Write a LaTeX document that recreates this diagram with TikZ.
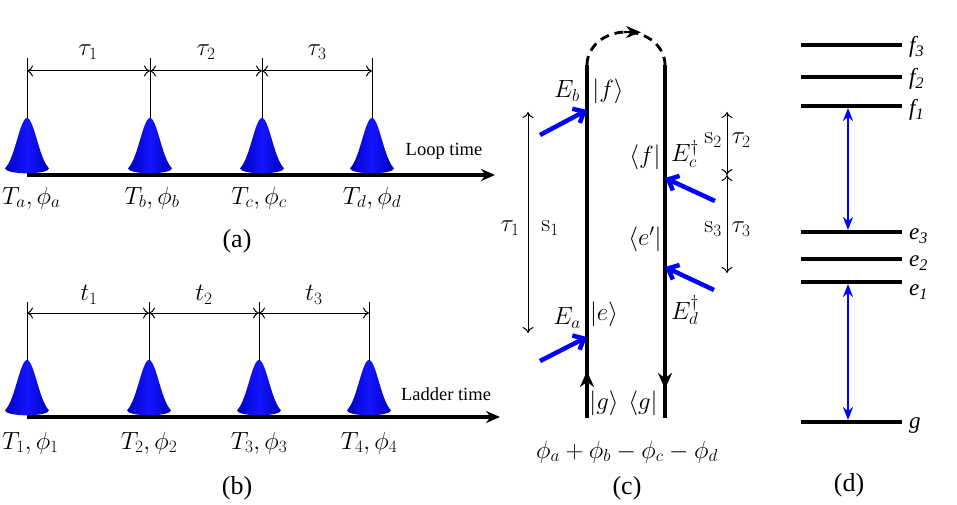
\documentclass[tikz,border=0pt]{standalone}
\usepackage[no-math]{fontspec}
\setmainfont{Liberation Serif}
\usetikzlibrary{arrows.meta}
\begin{document}
\begin{tikzpicture}[x=1pt,y=-1pt,
  font=\fontsize{23}{27}\selectfont,
  every node/.style={inner sep=0pt},
  axisline/.style={line width=4pt,-{Stealth[length=14pt,width=12pt]}},
  guide/.style={line width=0.8pt},
  dim/.style={line width=1pt,{To[length=6pt,width=11pt]}-{To[length=6pt,width=11pt]}},
  pulsefill/.style={left color=blue!75!black,right color=blue!75!black,middle color=blue!92!white},
  pulse/.pic={\shade[pulsefill] plot[domain=-22:22,samples=45,smooth] (\x,{-55*exp(-((\x/14)*(\x/14)))}) arc[start angle=0,end angle=180,x radius=22,y radius=5] -- cycle;},
  timelabel/.style={font=\fontsize{18.5}{22}\selectfont},
  caption/.style={font=\fontsize{26}{30}\selectfont},
  fey/.style={line width=3.5pt},
  beam/.style={blue,line width=4.5pt,-{Straight Barb[length=9pt,width=16pt]}},
  level/.style={line width=4pt},
  trans/.style={blue,line width=2.2pt,{Stealth[length=13pt,width=10pt]}-{Stealth[length=13pt,width=10pt]}},
  lvlabel/.style={anchor=west,font=\fontsize{23}{27}\selectfont\itshape},
]
\useasboundingbox (0,0) rectangle (957,505);
% ---------------- panel (a)
\draw[axisline] (27,175) -- (495,175);
\foreach \n/\cx in {a/27,b/150,c/262,d/372}{
  \pic at (\cx,173) {pulse};
  \coordinate (at\n) at (\cx,118);
  \coordinate (aa\n) at (\cx,58);
  \coordinate (ad\n) at (\cx,71);
  \draw[guide] (at\n) -- (aa\n);
}
\draw[dim] (ada) -- (adb);
\draw[dim] (adb) -- (adc);
\draw[dim] (adc) -- (add);
\node (tau1) at (88,52) {$\tau_1$};
\node (tau2) at (206,52) {$\tau_2$};
\node (tau3) at (317,52) {$\tau_3$};
\node[timelabel] (loop) at (444,151) {Loop time};
\node[anchor=west] (Ta) at (2,198) {$T_a,\phi_a$};
\node (Tb) at (152,198) {$T_b,\phi_b$};
\node (Tc) at (259,198) {$T_c,\phi_c$};
\node (Td) at (372,198) {$T_d,\phi_d$};
\node[caption] (capa) at (237,241) {(a)};
% ---------------- panel (b)
\draw[axisline] (27,417) -- (500,417);
\foreach \n/\cx in {1/27,2/149,3/259,4/369}{
  \pic at (\cx,415) {pulse};
  \coordinate (bt\n) at (\cx,361);
  \coordinate (ba\n) at (\cx,302);
  \coordinate (bd\n) at (\cx,313);
  \draw[guide] (bt\n) -- (ba\n);
}
\draw[dim] (bd1) -- (bd2);
\draw[dim] (bd2) -- (bd3);
\draw[dim] (bd3) -- (bd4);
\node (t1) at (89,295) {$t_1$};
\node (t2) at (204,295) {$t_2$};
\node (t3) at (314,295) {$t_3$};
\node[timelabel] (ladder) at (446,394) {Ladder time};
\node[anchor=west] (T1) at (2,443) {$T_1,\phi_1$};
\node (T2) at (149,443) {$T_2,\phi_2$};
\node (T3) at (259,443) {$T_3,\phi_3$};
\node (T4) at (369,443) {$T_4,\phi_4$};
\node[caption] (capb) at (237,488) {(b)};
% ---------------- panel (c)
\coordinate (Lb) at (587,418);
\coordinate (Lm) at (587,371);
\coordinate (Lt) at (587,65);
\coordinate (Rb) at (665,418);
\coordinate (Rm) at (665,389);
\coordinate (Rt) at (665,65);
\draw[fey,-{Stealth[length=16pt,width=14pt]}] (Lb) -- (Lm);
\draw[fey] ([yshift=-8pt]Lm) -- (Lt);
\draw[fey,-{Stealth[length=16pt,width=14pt]}] (Rt) -- (Rm);
\draw[fey] ([yshift=8pt]Rm) -- (Rb);
\draw[line width=2.8pt,dash pattern=on 9pt off 6pt] (Lt) arc[start angle=180,end angle=360,x radius=39,y radius=33];
\draw[line width=2pt,-{Stealth[length=15pt,width=12pt]}] (624,32) -- (641,32.3);
% beams
\coordinate (Eb) at (587,110);
\coordinate (Ea) at (587,337);
\coordinate (Ec) at (665,178);
\coordinate (Ed) at (665,267);
\draw[beam] (540,135) -- (Eb);
\draw[beam] (540,361) -- (Ea);
\draw[beam] (715,201) -- (Ec);
\draw[beam] (714,290) -- (Ed);
\node (lEb) at (567,91) {$E_b$};
\node (lkf) at (608,91) {$|f\rangle$};
\node (lbf) at (645,157) {$\langle f|$};
\node (lEc) at (685,154) {$E_c^\dagger$};
\node (lbe) at (645,239) {$\langle e'|$};
\node (lEd) at (685,310) {$E_d^\dagger$};
\node (lEa) at (567,318) {$E_a$};
\node (lke) at (604,314) {$|e\rangle$};
\node (lkg) at (604,403) {$|g\rangle$};
\node (lbg) at (643,403) {$\langle g|$};
\node (phase) at (627,452) {$\phi_a+\phi_b-\phi_c-\phi_d$};
\node[caption] (capc) at (627,488) {(c)};
% time arrows
\coordinate (d1t) at (528,112);
\coordinate (d1b) at (528,333);
\coordinate (d2t) at (727,112);
\coordinate (d2m) at (727,175);
\coordinate (d2b) at (727,273);
\draw[dim] (d1t) -- (d1b);
\draw[dim] (d2t) -- (d2m);
\draw[dim] (d2m) -- (d2b);
\node (ltau1) at (510,228) {$\tau_1$};
\node (ls1) at (550,228) {$\mathrm{s}_1$};
\node (ls2) at (713,140) {$\mathrm{s}_2$};
\node (ltau2) at (741,140) {$\tau_2$};
\node (ls3) at (713,229) {$\mathrm{s}_3$};
\node (ltau3) at (741,229) {$\tau_3$};
% ---------------- panel (d)
\foreach \n/\y in {f3/45,f2/77,f1/106,e3/232,e2/259,e1/282,g/422}{
  \coordinate (\n l) at (801,\y);
  \coordinate (\n r) at (902,\y);
  \draw[level] (\n l) -- (\n r);
}
\node[lvlabel] (nf3) at (909,47) {f\textsubscript{3}};
\node[lvlabel] (nf2) at (909,79) {f\textsubscript{2}};
\node[lvlabel] (nf1) at (909,110) {f\textsubscript{1}};
\node[lvlabel] (ne3) at (909,236) {e\textsubscript{3}};
\node[lvlabel] (ne2) at (909,263) {e\textsubscript{2}};
\node[lvlabel] (ne1) at (909,292) {e\textsubscript{1}};
\node[lvlabel] (ng) at (909,426) {g};
\coordinate (x1) at (848,108);
\coordinate (x2) at (848,230);
\coordinate (x3) at (848,284);
\coordinate (x4) at (848,420);
\draw[trans] (x1) -- (x2);
\draw[trans] (x3) -- (x4);
\node[caption] (capd) at (849,485) {(d)};
\end{tikzpicture}
\end{document}
